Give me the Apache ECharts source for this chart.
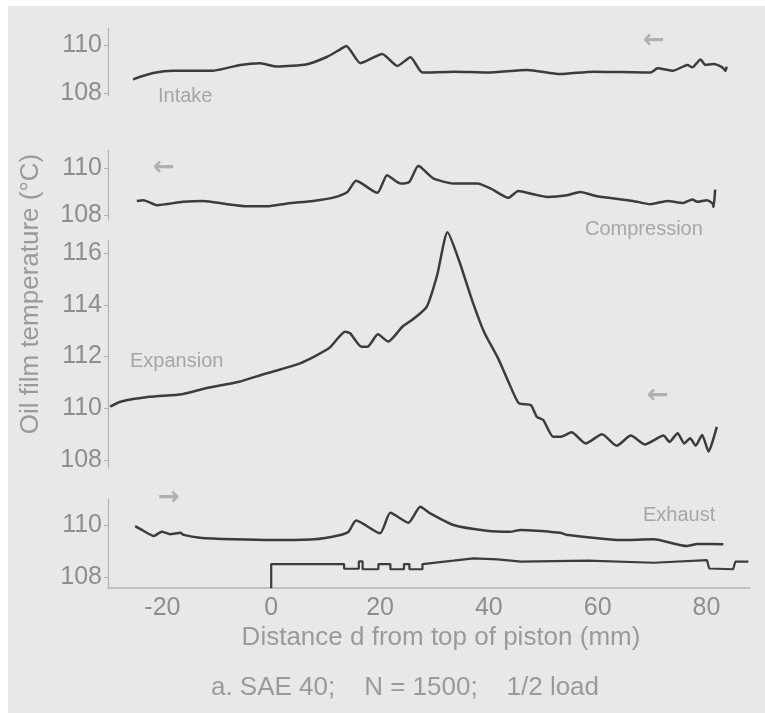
<!DOCTYPE html>
<html>
<head>
<meta charset="utf-8">
<script src="https://cdn.jsdelivr.net/npm/echarts@6/dist/echarts.min.js"></script>
<style>
  html, body { margin: 0; padding: 0; background: #ffffff; }
  #chart { width: 765px; height: 713px; }
</style>
</head>
<body>
<div id="chart"></div>
<script>
// Distance d from top of piston (mm) and oil film temperature (°C) for each stroke
const intakeD = [-25.4, -21.7, -18.0, -10.7, -5.7, -2.0, 1.1, 6.6, 10.3, 12.7, 13.8, 16.4, 20.4, 23.2, 25.6, 27.8, 33.5, 39.7, 47.1, 53.1, 59.2, 69.7, 71.0, 73.9, 76.5, 77.4, 78.9, 79.8, 81.3, 82.9, 83.5, 83.7];
const intakeT = [108.57, 108.83, 108.93, 108.93, 109.17, 109.24, 109.10, 109.20, 109.51, 109.82, 109.96, 109.24, 109.63, 109.13, 109.49, 108.85, 108.89, 108.85, 108.96, 108.79, 108.89, 108.85, 109.03, 108.93, 109.17, 109.07, 109.40, 109.17, 109.21, 109.07, 108.92, 109.10];

const compressionD = [-24.7, -23.5, -21.0, -16.2, -12.5, -8.1, -4.4, -0.7, 2.9, 7.7, 11.4, 14.0, 15.6, 19.5, 21.3, 23.7, 25.4, 27.0, 27.4, 29.8, 33.5, 37.9, 40.3, 43.6, 45.4, 48.2, 50.7, 54.4, 56.8, 59.9, 66.5, 69.7, 72.8, 75.7, 77.4, 78.3, 80.1, 81.1, 81.3, 81.6];
const compressionT = [108.61, 108.64, 108.43, 108.57, 108.61, 108.47, 108.38, 108.38, 108.50, 108.61, 108.75, 108.99, 109.46, 108.95, 109.70, 109.35, 109.42, 110.09, 110.06, 109.56, 109.35, 109.35, 109.14, 108.74, 109.03, 108.89, 108.78, 108.85, 108.99, 108.81, 108.61, 108.47, 108.61, 108.52, 108.67, 108.57, 108.64, 108.50, 108.35, 109.09];

const expansionD = [-29.6, -27.7, -22.4, -16.4, -12.0, -5.9, -1.4, 5.3, 10.6, 13.6, 14.5, 16.6, 17.7, 19.6, 21.5, 24.1, 26.3, 28.6, 30.5, 32.4, 34.6, 36.8, 39.1, 41.7, 43.6, 45.5, 47.7, 48.8, 50.0, 51.8, 53.3, 55.2, 57.8, 60.8, 63.5, 66.1, 68.7, 71.0, 72.1, 73.2, 74.7, 75.9, 77.0, 78.0, 79.2, 80.4, 81.1, 81.9];
const expansionT = [110.07, 110.26, 110.45, 110.55, 110.78, 111.03, 111.32, 111.74, 112.32, 112.96, 112.90, 112.38, 112.38, 112.86, 112.58, 113.15, 113.48, 113.93, 115.15, 116.80, 115.66, 114.25, 112.96, 111.93, 111.03, 110.20, 110.13, 109.68, 109.55, 108.91, 108.91, 109.08, 108.65, 109.00, 108.56, 108.95, 108.61, 108.85, 108.95, 108.71, 109.04, 108.65, 108.85, 108.56, 108.97, 108.33, 108.71, 109.29];

const exhaustD = [-25.0, -23.5, -21.6, -20.1, -18.6, -16.7, -16.1, -13.1, -6.9, 0.4, 7.8, 12.7, 14.2, 15.6, 20.0, 21.9, 25.2, 27.4, 29.2, 33.5, 39.6, 43.9, 45.8, 53.1, 54.4, 64.2, 70.3, 76.4, 78.3, 83.1];
const exhaustT = [109.96, 109.78, 109.58, 109.74, 109.65, 109.70, 109.62, 109.51, 109.45, 109.42, 109.45, 109.62, 109.74, 110.17, 109.68, 110.47, 110.09, 110.70, 110.45, 110.00, 109.78, 109.74, 109.81, 109.70, 109.62, 109.42, 109.45, 109.19, 109.27, 109.26];

// Step trace recorded under the exhaust curve
const markerD = [0, 0, 13.4, 13.4, 16.1, 16.1, 16.8, 16.8, 19.7, 19.7, 21.9, 21.9, 24.4, 24.4, 25.4, 25.4, 27.8, 27.8, 33.5, 37.2, 41.6, 45.9, 58.2, 70.3, 80.1, 80.5, 84.9, 85.3, 87.7];
const markerT = [107.57, 108.5, 108.5, 108.32, 108.32, 108.6, 108.6, 108.3, 108.3, 108.5, 108.5, 108.3, 108.3, 108.5, 108.5, 108.3, 108.3, 108.5, 108.63, 108.72, 108.68, 108.59, 108.63, 108.55, 108.65, 108.33, 108.3, 108.59, 108.59];

// Tick labels
const xTicks = [-20, 0, 20, 40, 60, 80];
const smallTicks = [108, 110];
const expansionTicks = [108, 110, 112, 114, 116];

const zip = (a, b) => a.map((v, i) => [v, b[i]]);

const FONT = "'Liberation Sans', Arial, sans-serif";
const TICK_COLOR = '#8e8e8e';
const AXIS_COLOR = '#b3b3b3';
const LINE_COLOR = '#3c3c3c';

// Panel layout: top, height, y range and ticks
const panels = [
  { top: 28.2, height: 67.2, min: 107.9, max: 110.7, ticks: smallTicks },
  { top: 150.4, height: 69.6, min: 107.8, max: 110.75, ticks: smallTicks },
  { top: 240, height: 228, min: 107.7, max: 116.5, ticks: expansionTicks },
  { top: 499, height: 89, min: 107.58, max: 111, ticks: smallTicks }
];

const grids = panels.map(p => ({ left: 108, right: 15, top: p.top, height: p.height }));

const xAxes = panels.map((p, i) => ({
  type: 'value', gridIndex: i, min: -30, max: 88,
  show: i === 3,
  axisLine: { show: true, onZero: false, lineStyle: { color: AXIS_COLOR, width: 1.5 } },
  axisTick: { show: false },
  splitLine: { show: false },
  axisLabel: {
    customValues: xTicks, fontSize: 25, color: TICK_COLOR, fontFamily: FONT, margin: 8
  }
}));

const yAxes = panels.map((p, i) => ({
  type: 'value', gridIndex: i, min: p.min, max: p.max,
  axisLine: { show: true, onZero: false, lineStyle: { color: AXIS_COLOR, width: 1.2 } },
  axisTick: { show: true, customValues: p.ticks, length: 4, lineStyle: { color: AXIS_COLOR } },
  splitLine: { show: false },
  axisLabel: {
    customValues: p.ticks, fontSize: 25, color: TICK_COLOR, fontFamily: FONT, margin: 6
  }
}));

const curve = (data, i) => ({
  type: 'line', xAxisIndex: i, yAxisIndex: i, data: data,
  showSymbol: false, smooth: 0.2, clip: false,
  lineStyle: { color: LINE_COLOR, width: 2.5 }
});

const series = [
  curve(zip(intakeD, intakeT), 0),
  curve(zip(compressionD, compressionT), 1),
  curve(zip(expansionD, expansionT), 2),
  curve(zip(exhaustD, exhaustT), 3),
  {
    type: 'line', xAxisIndex: 3, yAxisIndex: 3, data: zip(markerD, markerT),
    showSymbol: false, clip: false,
    lineStyle: { color: LINE_COLOR, width: 2.2 }
  }
];

const label = (text, x, y, size, color, extra) => Object.assign({
  type: 'text', left: x, top: y,
  style: { text: text, fill: color, font: size + 'px ' + FONT }
}, extra || {});

const arrow = (text, x, y) => ({
  type: 'text', left: x, top: y,
  style: { text: text, fill: '#b0b0b0', font: 'bold 26px DejaVu Sans' }
});

const graphic = [
  { type: 'rect', left: 8, top: 6, shape: { width: 757, height: 707 }, style: { fill: '#e8e8e8' }, z: -10 },
  label('Intake', 158, 86, 20, '#a6a6a6'),
  label('Compression', 585, 219, 20, '#a6a6a6'),
  label('Expansion', 130, 351, 20, '#a6a6a6'),
  label('Exhaust', 643, 505, 20, '#a6a6a6'),
  arrow('\u2190', 643, 28),
  arrow('\u2190', 153, 155),
  arrow('\u2190', 647, 383),
  arrow('\u2192', 158, 485),
  {
    type: 'text', x: 31, y: 294, rotation: Math.PI / 2,
    style: { text: 'Oil film temperature (\u00b0C)', fill: '#9a9a9a', font: '26px ' + FONT, align: 'center', verticalAlign: 'middle' }
  },
  {
    type: 'text', x: 441, y: 638,
    style: { text: 'Distance d from top of piston (mm)', fill: '#9a9a9a', font: '26px ' + FONT, align: 'center', verticalAlign: 'middle' }
  },
  {
    type: 'text', x: 405, y: 688,
    style: { text: 'a. SAE 40;    N = 1500;    1/2 load', fill: '#9a9a9a', font: '26px ' + FONT, align: 'center', verticalAlign: 'middle' }
  }
];

const chart = echarts.init(document.getElementById('chart'), null, { renderer: 'canvas' });
chart.setOption({
  backgroundColor: '#ffffff',
  animation: false,
  grid: grids,
  xAxis: xAxes,
  yAxis: yAxes,
  series: series,
  graphic: graphic
});
</script>
</body>
</html>
